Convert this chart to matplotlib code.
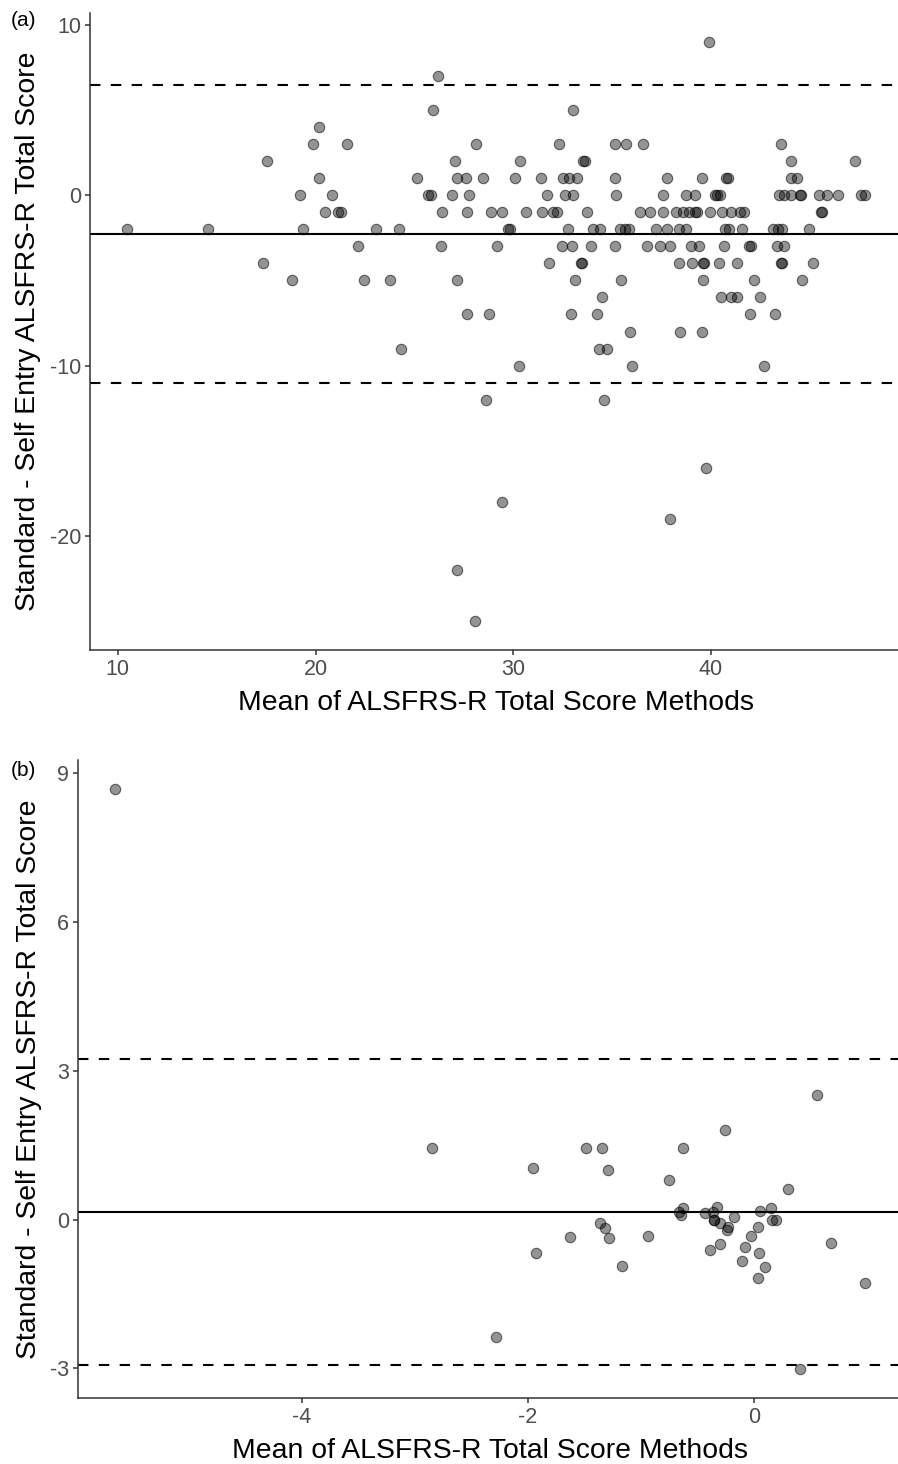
#!/usr/bin/env python3
"""Bland-Altman plots: standard vs self entry ALSFRS-R total score."""

import matplotlib
matplotlib.use('Agg')
import matplotlib.pyplot as plt

plt.rcParams['font.family'] = ['Liberation Sans', 'DejaVu Sans']
plt.rcParams['axes.unicode_minus'] = False

# ---- panel (a): total score ----
a_diff_rows = [9, 7, 5, 4, 3, 2, 1, 0, -1, -2, -3, -4, -5, -6, -7, -8,
               -9, -10, -12, -16, -18, -19, -22, -25]
a_mean_rows = [
    [39.9],
    [26.2],
    [25.95, 33.0],
    [20.15],
    [19.85, 21.57, 28.09, 32.31, 35.15, 35.7, 36.56, 43.55],
    [17.55, 27.03, 30.33, 33.55, 33.62, 44.04, 47.31],
    [20.17, 25.14, 27.17, 27.6, 28.46, 30.1, 31.4, 32.53, 32.83, 33.2,
     35.15, 37.78, 39.56, 40.78, 40.86, 44.07, 44.33],
    [19.22, 20.84, 25.7, 25.86, 26.88, 27.74, 31.7, 32.63, 33.0, 35.22,
     37.57, 38.76, 39.18, 40.2, 40.3, 40.45, 43.43, 43.7, 44.07, 44.5,
     44.55, 45.47, 45.88, 46.43, 47.58, 47.79],
    [20.5, 21.11, 21.28, 26.42, 27.67, 28.87, 29.42, 30.64, 31.43, 32.02,
     32.19, 33.74, 36.4, 36.94, 37.57, 38.23, 38.6, 38.9, 39.2, 39.28,
     39.94, 40.57, 40.99, 41.46, 41.66, 45.58, 45.64],
    [10.46, 14.55, 19.37, 23.08, 24.23, 29.75, 29.82, 32.78, 34.04, 34.41,
     35.39, 35.65, 35.86, 37.21, 37.8, 38.39, 38.76, 40.7, 40.92, 41.56,
     43.15, 43.4, 43.57, 44.97],
    [22.16, 26.37, 29.17, 32.44, 32.98, 33.91, 35.17, 36.77, 37.41, 37.92,
     38.97, 39.4, 40.65, 41.9, 42.05, 43.32, 43.7],
    [17.35, 31.82, 33.42, 33.48, 38.39, 39.05, 39.58, 39.64, 40.4, 41.33,
     43.54, 43.6, 45.17],
    [18.79, 22.43, 23.74, 27.13, 33.13, 35.43, 39.59, 42.19, 44.6],
    [34.48, 40.53, 40.99, 41.3, 42.49],
    [27.64, 28.78, 32.93, 34.24, 41.97, 43.23],
    [35.9, 38.43, 39.56],
    [24.3, 34.32, 34.73],
    [30.3, 36.01, 42.69],
    [28.61, 34.58],
    [39.74],
    [29.44],
    [37.94],
    [27.17],
    [28.06],
]
a_bias = -2.29
a_limits = [6.47, -11.05]
a_xticks = [10, 20, 30, 40]
a_yticks = [-20, -10, 0, 10]

# ---- panel (b): change in total score ----
b_mean = [-5.65, -2.85, -1.49, -1.345, -0.63, -0.26, 0.557, -1.953, -1.287,
          -0.75, 0.297, -0.667, -0.626, -0.644, -0.431, -0.325, -0.366,
          -0.35, -0.35, -0.298, -0.23, -0.239, -0.174, 0.053, 0.15, 0.159,
          0.197, 0.038, -0.027, -0.083, -0.298, -0.393, -0.104, 0.047,
          0.097, 0.038, 0.684, 0.979, 0.407, -2.28, -1.924, -1.63, -1.36,
          -1.32, -1.28, -1.166, -0.938]
b_diff = [8.68, 1.445, 1.44, 1.445, 1.445, 1.81, 2.51, 1.03, 1.0,
          0.79, 0.62, 0.148, 0.228, 0.10, 0.135, 0.262, 0.148,
          0.0, 0.0, -0.074, -0.155, -0.21, 0.06, 0.168, 0.24, 0.0,
          0.0, -0.16, -0.336, -0.55, -0.50, -0.61, -0.83, -0.67,
          -0.968, -1.176, -0.47, -1.28, -3.02, -2.37, -0.67, -0.35, -0.074,
          -0.175, -0.37, -0.94, -0.336]
b_bias = 0.15
b_limits = [3.23, -2.93]
b_xticks = [-4, -2, 0]
b_yticks = [-3, 0, 3, 6, 9]

XLABEL = 'Mean of ALSFRS-R Total Score Methods'
YLABEL = 'Standard - Self Entry ALSFRS-R Total Score'

AXIS_COL = '#333333'
TICK_COL = '#4D4D4D'


def style_axes(ax, xticks, yticks):
    for side in ('top', 'right'):
        ax.spines[side].set_visible(False)
    for side in ('left', 'bottom'):
        ax.spines[side].set_color(AXIS_COL)
        ax.spines[side].set_linewidth(1.1)
    ax.set_xticks(xticks)
    ax.set_yticks(yticks)
    ax.tick_params(colors=AXIS_COL, labelcolor=TICK_COL, labelsize=15.5,
                   length=3.5, width=1.1, pad=3)
    ax.set_xlabel(XLABEL, fontsize=20.4, labelpad=7)
    ax.set_ylabel(YLABEL, fontsize=20.4, labelpad=6)


def draw_panel(ax, xs, ys, bias, limits):
    ax.scatter(xs, ys, s=56, facecolor=(0, 0, 0, 0.42),
               edgecolor=(0, 0, 0, 0.55), linewidth=0.8, zorder=3)
    ax.axhline(bias, color='black', linewidth=1.5, zorder=2)
    for lim in limits:
        ax.axhline(lim, color='black', linewidth=1.5, linestyle=(0, (5, 5)),
                   zorder=2)


def main():
    fig = plt.figure(figsize=(8.98, 14.64), dpi=100)

    a_mean = []
    a_diff = []
    for d, row in zip(a_diff_rows, a_mean_rows):
        a_mean.extend(row)
        a_diff.extend([d] * len(row))

    ax_a = fig.add_axes([0.1002, 0.556, 0.9042, 0.4351])
    draw_panel(ax_a, a_mean, a_diff, a_bias, a_limits)
    ax_a.set_xlim(8.59, 49.66)
    ax_a.set_ylim(-26.7, 10.7)
    style_axes(ax_a, a_xticks, a_yticks)

    ax_b = fig.add_axes([0.0869, 0.0451, 0.9176, 0.4358])
    draw_panel(ax_b, b_mean, b_diff, b_bias, b_limits)
    ax_b.set_xlim(-5.98, 1.31)
    ax_b.set_ylim(-3.6, 9.27)
    style_axes(ax_b, b_xticks, b_yticks)

    fig.text(0.012, 1 - 20 / 1464, '(a)', fontsize=15, va='center')
    fig.text(0.012, 1 - 770 / 1464, '(b)', fontsize=15, va='center')

    fig.savefig('out.png', dpi=100)
    plt.close(fig)


if __name__ == '__main__':
    main()
